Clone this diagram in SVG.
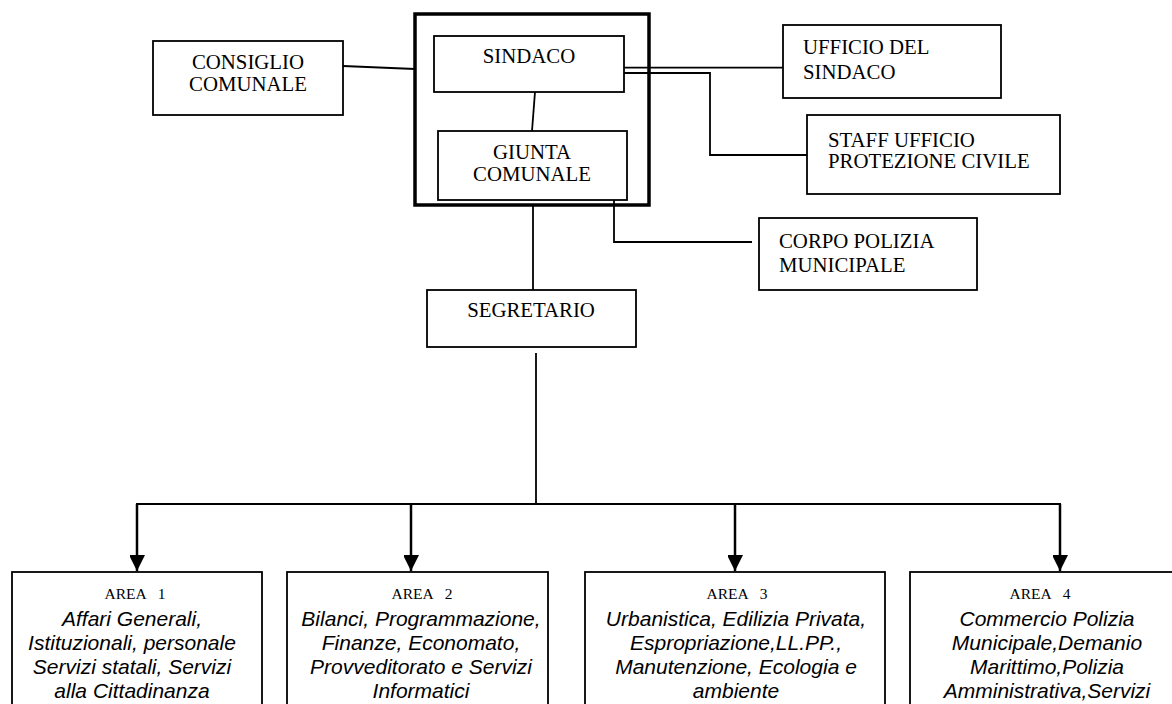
<svg xmlns="http://www.w3.org/2000/svg" width="1172" height="704" viewBox="0 0 1172 704">
<style>
.box{fill:#fff;stroke:#000;stroke-width:1.8}
.outer{fill:none;stroke:#000;stroke-width:3.5}
.t{font-family:"Liberation Serif","Times New Roman",serif;font-size:20.8px;fill:#000}
.c{text-anchor:middle}
.area{font-family:"Liberation Serif","Times New Roman",serif;font-size:15.5px;fill:#000;text-anchor:middle;word-spacing:8px}
.it{font-family:"Liberation Sans",Arial,sans-serif;font-style:italic;font-size:21px;fill:#000;text-anchor:middle}
.ln{fill:none;stroke:#000;stroke-width:1.8}
.ar{fill:none;stroke:#000;stroke-width:2.5}
</style>
<defs>
<marker id="arr" markerUnits="userSpaceOnUse" markerWidth="16" markerHeight="15" refX="16" refY="8" orient="auto">
<path d="M0,0 L16,8 L0,16 Z" fill="#000"/>
</marker>
</defs>
<rect width="1172" height="704" fill="#fff"/>
<g id="connectors">
<line class="ln" x1="343" y1="66" x2="415" y2="69"/>
<line class="ln" x1="535" y1="92" x2="532" y2="131"/>
<line class="ln" x1="613" y1="67.7" x2="790" y2="67.7"/>
<polyline class="ln" points="613,73 710,73 710,155 807,155"/>
<polyline class="ln" points="614,193 614,242 752,242"/>
<line class="ln" x1="533" y1="205" x2="533" y2="290"/>
<line class="ln" x1="536" y1="353" x2="536" y2="504"/>
<line class="ln" x1="136" y1="504" x2="1061" y2="504"/>
<line class="ar" x1="137" y1="504" x2="137" y2="571" marker-end="url(#arr)"/>
<line class="ar" x1="411" y1="504" x2="411" y2="571" marker-end="url(#arr)"/>
<line class="ar" x1="735" y1="504" x2="735" y2="571" marker-end="url(#arr)"/>
<line class="ar" x1="1060" y1="504" x2="1060" y2="571" marker-end="url(#arr)"/>
</g>
<g id="giunta-group-frame">
<rect class="outer" x="415" y="14" width="234" height="191"/>
</g>
<g id="consiglio">
<rect class="box" x="153" y="41" width="190" height="74"/>
<text class="t c" x="248" y="69">CONSIGLIO</text>
<text class="t c" x="248" y="91">COMUNALE</text>
</g>
<g id="sindaco">
<rect class="box" x="434" y="36" width="190" height="56"/>
<text class="t c" x="529" y="63">SINDACO</text>
</g>
<g id="giunta">
<rect class="box" x="438" y="131" width="189" height="69"/>
<text class="t c" x="532" y="159">GIUNTA</text>
<text class="t c" x="532" y="181">COMUNALE</text>
</g>
<g id="ufficio">
<rect class="box" x="783" y="25" width="218" height="73"/>
<text class="t" x="803" y="54">UFFICIO DEL</text>
<text class="t" x="803" y="79">SINDACO</text>
</g>
<g id="staff">
<rect class="box" x="807" y="115" width="253" height="79"/>
<text class="t" x="828" y="147">STAFF UFFICIO</text>
<text class="t" x="828" y="168">PROTEZIONE CIVILE</text>
</g>
<g id="polizia">
<rect class="box" x="759" y="218" width="218" height="72"/>
<text class="t" x="779" y="248">CORPO POLIZIA</text>
<text class="t" x="779" y="272">MUNICIPALE</text>
</g>
<g id="segretario">
<rect class="box" x="427" y="290" width="209" height="57"/>
<text class="t c" x="531" y="317">SEGRETARIO</text>
</g>
<g id="area1">
<rect class="box" x="12" y="572" width="250" height="150"/>
<text class="area" x="135" y="599">AREA 1</text>
<text class="it" x="132" y="626">Affari Generali,</text>
<text class="it" x="132" y="650">Istituzionali, personale</text>
<text class="it" x="132" y="674">Servizi statali, Servizi</text>
<text class="it" x="132" y="698">alla Cittadinanza</text>
</g>
<g id="area2">
<rect class="box" x="287" y="572" width="261" height="150"/>
<text class="area" x="422" y="599">AREA 2</text>
<text class="it" x="421" y="626">Bilanci, Programmazione,</text>
<text class="it" x="421" y="650">Finanze, Economato,</text>
<text class="it" x="421" y="674">Provveditorato e Servizi</text>
<text class="it" x="421" y="698">Informatici</text>
</g>
<g id="area3">
<rect class="box" x="585" y="572" width="300" height="150"/>
<text class="area" x="737" y="599">AREA 3</text>
<text class="it" x="736" y="626">Urbanistica, Edilizia Privata,</text>
<text class="it" x="736" y="650">Espropriazione,LL.PP.,</text>
<text class="it" x="736" y="674">Manutenzione, Ecologia e</text>
<text class="it" x="736" y="698">ambiente</text>
</g>
<g id="area4">
<rect class="box" x="910" y="572" width="290" height="150"/>
<text class="area" x="1040" y="599">AREA 4</text>
<text class="it" x="1047" y="626">Commercio Polizia</text>
<text class="it" x="1047" y="650">Municipale,Demanio</text>
<text class="it" x="1047" y="674">Marittimo,Polizia</text>
<text class="it" x="1047" y="698">Amministrativa,Servizi</text>
</g>
</svg>
